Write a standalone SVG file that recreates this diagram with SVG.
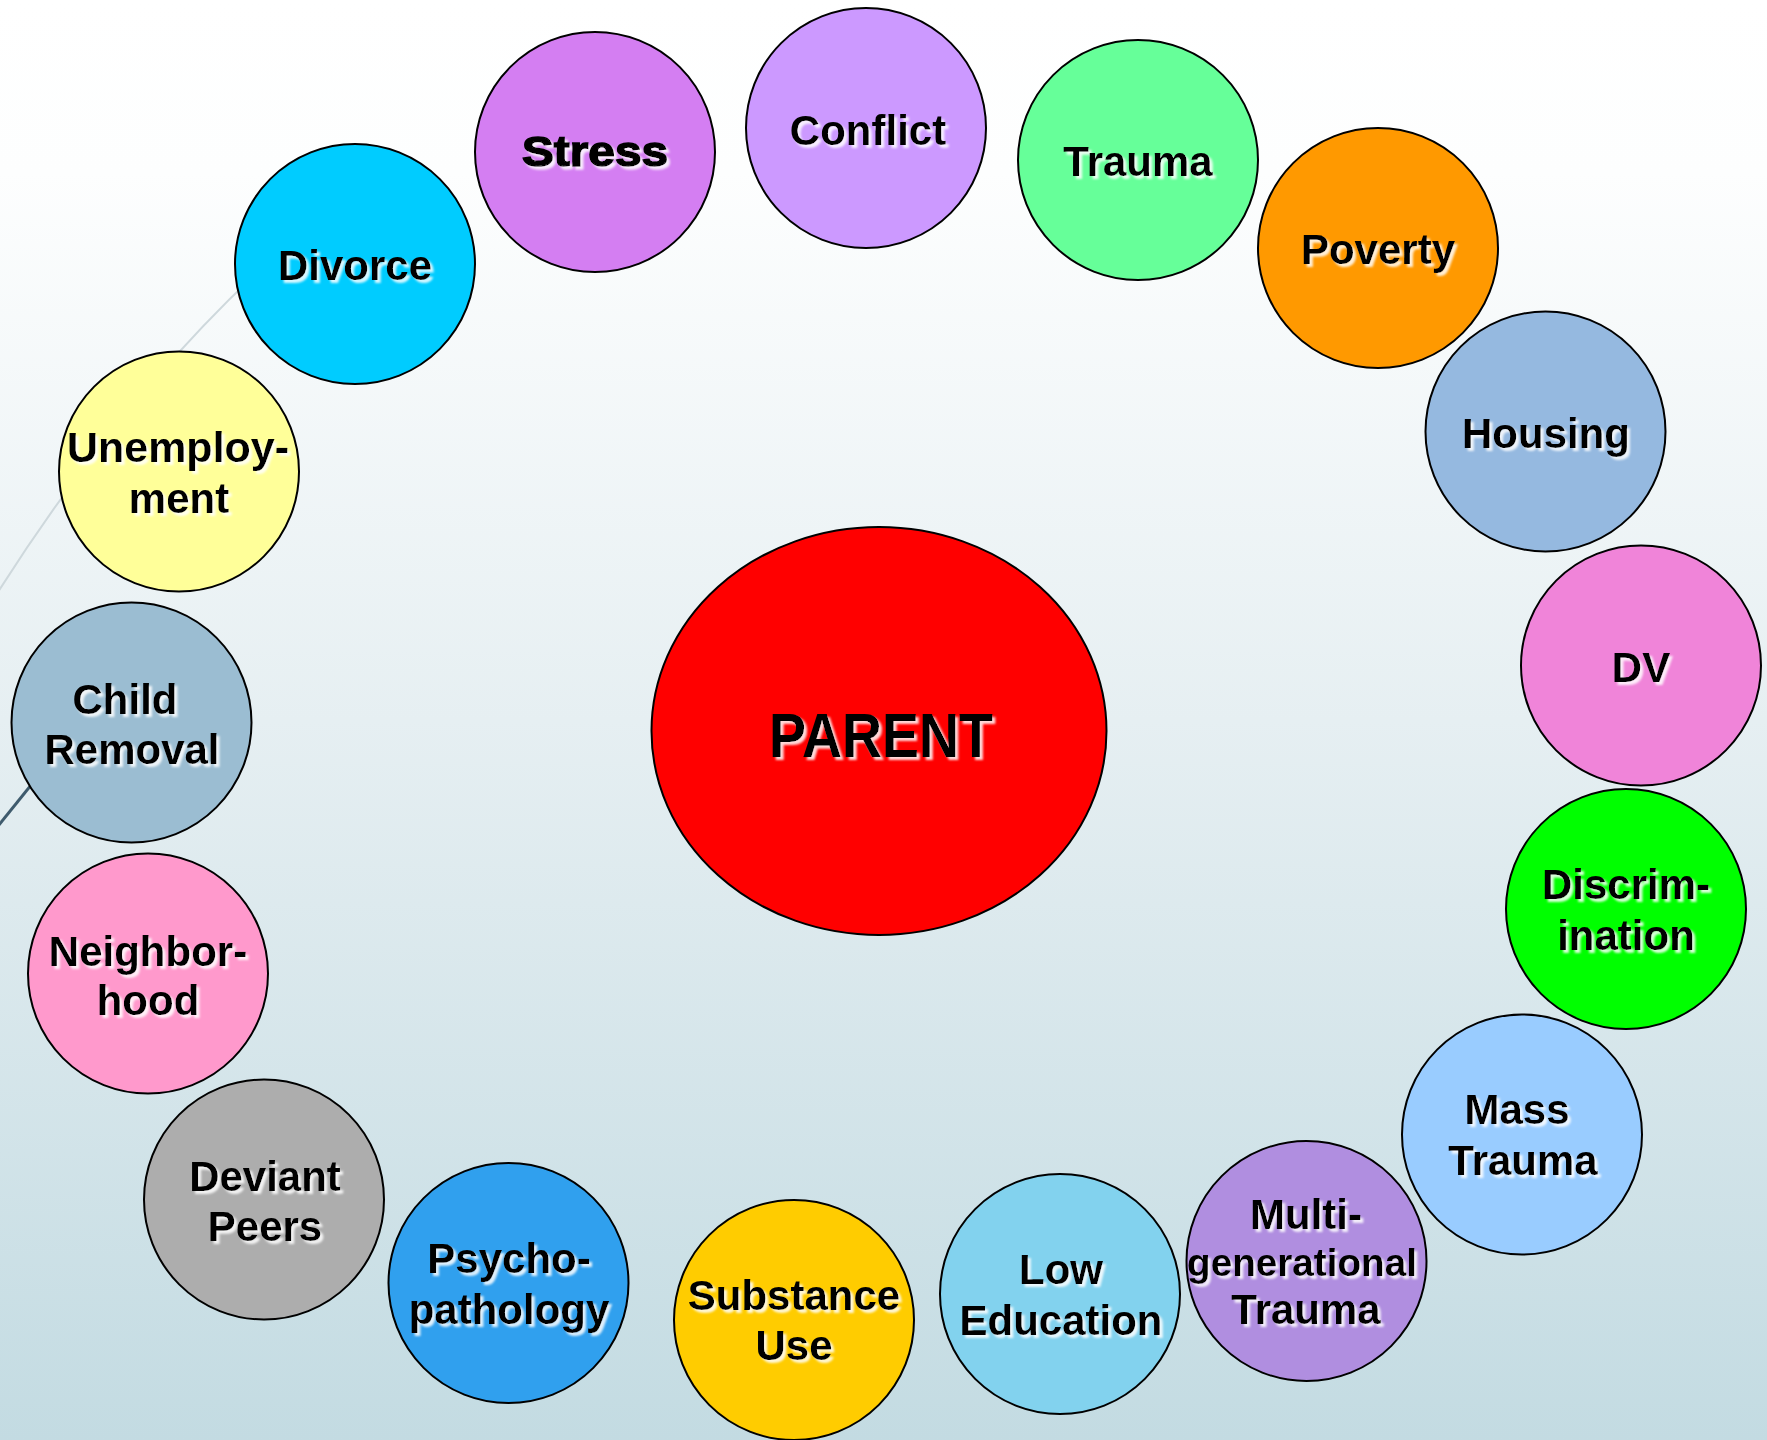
<svg xmlns="http://www.w3.org/2000/svg" width="1767" height="1440" viewBox="0 0 1767 1440">
<defs>
<linearGradient id="bg" x1="0" y1="0" x2="0" y2="1">
<stop offset="0" stop-color="#ffffff"/>
<stop offset="0.12" stop-color="#fdfefe"/>
<stop offset="0.5" stop-color="#e6eff2"/>
<stop offset="1" stop-color="#c3dbe2"/>
</linearGradient>
<filter id="sh" x="-10%" y="-30%" width="130%" height="170%">
<feGaussianBlur in="SourceAlpha" stdDeviation="1.2"/>
<feOffset dx="2.5" dy="2.5" result="o"/>
<feFlood flood-color="#ffffff" flood-opacity="0.85"/>
<feComposite in2="o" operator="in" result="s"/>
<feMerge><feMergeNode in="s"/><feMergeNode in="SourceGraphic"/></feMerge>
</filter>
</defs>
<style>
.n{stroke:#000;stroke-width:2}
.t{font-family:"Liberation Sans",Arial,sans-serif;font-weight:bold;font-size:42px;fill:#000;text-anchor:middle;filter:url(#sh)}
</style>
<rect x="0" y="0" width="1767" height="1440" fill="url(#bg)"/>
<g id="background">
<path d="M262 268 Q120 400 -2 592" fill="none" stroke="#ced8dc" stroke-width="2"/>
<path d="M48 764 L-2 826" fill="none" stroke="#3f5b6d" stroke-width="3"/>
</g>
<g id="connectors"/>
<g id="parent">
<ellipse class="n" cx="879" cy="731" rx="227.5" ry="204" fill="#ff0000"/>
<text class="t" x="881" y="757" style="font-size:63px" textLength="224" lengthAdjust="spacingAndGlyphs">PARENT</text>
</g>
<g id="divorce">
<circle class="n" cx="355" cy="264" r="120" fill="#00ccff" stroke="#3d3410"/>
<text class="t" x="355" y="280">Divorce</text>
</g>
<g id="stress">
<circle class="n" cx="595" cy="152" r="120" fill="#d47ef2"/>
<text class="t" x="595" y="166" style="font-size:43px;stroke:#000;stroke-width:1.6" textLength="146" lengthAdjust="spacingAndGlyphs">Stress</text>
</g>
<g id="conflict">
<circle class="n" cx="866" cy="128" r="120" fill="#cc99ff"/>
<text class="t" x="868" y="145">Conflict</text>
</g>
<g id="trauma">
<circle class="n" cx="1138" cy="160" r="120" fill="#66ff99"/>
<text class="t" x="1138" y="176">Trauma</text>
</g>
<g id="poverty">
<circle class="n" cx="1378" cy="248" r="120" fill="#ff9900"/>
<text class="t" x="1378" y="264">Poverty</text>
</g>
<g id="housing">
<circle class="n" cx="1545.5" cy="431.5" r="120" fill="#95b9e0"/>
<text class="t" x="1546" y="448">Housing</text>
</g>
<g id="dv">
<circle class="n" cx="1641" cy="665.5" r="120" fill="#f084d9"/>
<text class="t" x="1641" y="682">DV</text>
</g>
<g id="discrimination">
<circle class="n" cx="1626" cy="909" r="120" fill="#00ff00"/>
<text class="t"><tspan x="1626" y="899">Discrim-</tspan><tspan x="1626" y="950">ination</tspan></text>
</g>
<g id="mass-trauma">
<circle class="n" cx="1522" cy="1134.5" r="120" fill="#99ccff"/>
<text class="t"><tspan x="1517" y="1124">Mass</tspan><tspan x="1523" y="1175">Trauma</tspan></text>
</g>
<g id="multigenerational-trauma">
<circle class="n" cx="1306.5" cy="1261" r="120" fill="#b08ee0"/>
<text class="t"><tspan x="1306" y="1229">Multi-</tspan><tspan x="1302" y="1276" style="font-size:39px" textLength="230" lengthAdjust="spacingAndGlyphs">generational</tspan><tspan x="1306" y="1324">Trauma</tspan></text>
</g>
<g id="low-education">
<circle class="n" cx="1060" cy="1294" r="120" fill="#82d2ee"/>
<text class="t"><tspan x="1061" y="1284">Low</tspan><tspan x="1061" y="1335">Education</tspan></text>
</g>
<g id="substance-use">
<circle class="n" cx="794" cy="1320" r="120" fill="#ffcc00"/>
<text class="t"><tspan x="794" y="1310">Substance</tspan><tspan x="794" y="1360">Use</tspan></text>
</g>
<g id="psychopathology">
<circle class="n" cx="508.5" cy="1283" r="120" fill="#30a0ee"/>
<text class="t"><tspan x="509" y="1273">Psycho-</tspan><tspan x="509" y="1324">pathology</tspan></text>
</g>
<g id="deviant-peers">
<circle class="n" cx="264" cy="1199.5" r="120" fill="#adadad"/>
<text class="t"><tspan x="265" y="1191">Deviant</tspan><tspan x="265" y="1241">Peers</tspan></text>
</g>
<g id="neighborhood">
<circle class="n" cx="148" cy="973.5" r="120" fill="#ff99cc"/>
<text class="t"><tspan x="148" y="966">Neighbor-</tspan><tspan x="148" y="1015">hood</tspan></text>
</g>
<g id="child-removal">
<circle class="n" cx="131.5" cy="722.5" r="120" fill="#9bbdd2"/>
<text class="t"><tspan x="125" y="714">Child</tspan><tspan x="132" y="764">Removal</tspan></text>
</g>
<g id="unemployment">
<circle class="n" cx="179" cy="471.5" r="120" fill="#ffff99"/>
<text class="t"><tspan x="178" y="462" style="font-size:43px">Unemploy-</tspan><tspan x="179" y="513">ment</tspan></text>
</g>
</svg>
